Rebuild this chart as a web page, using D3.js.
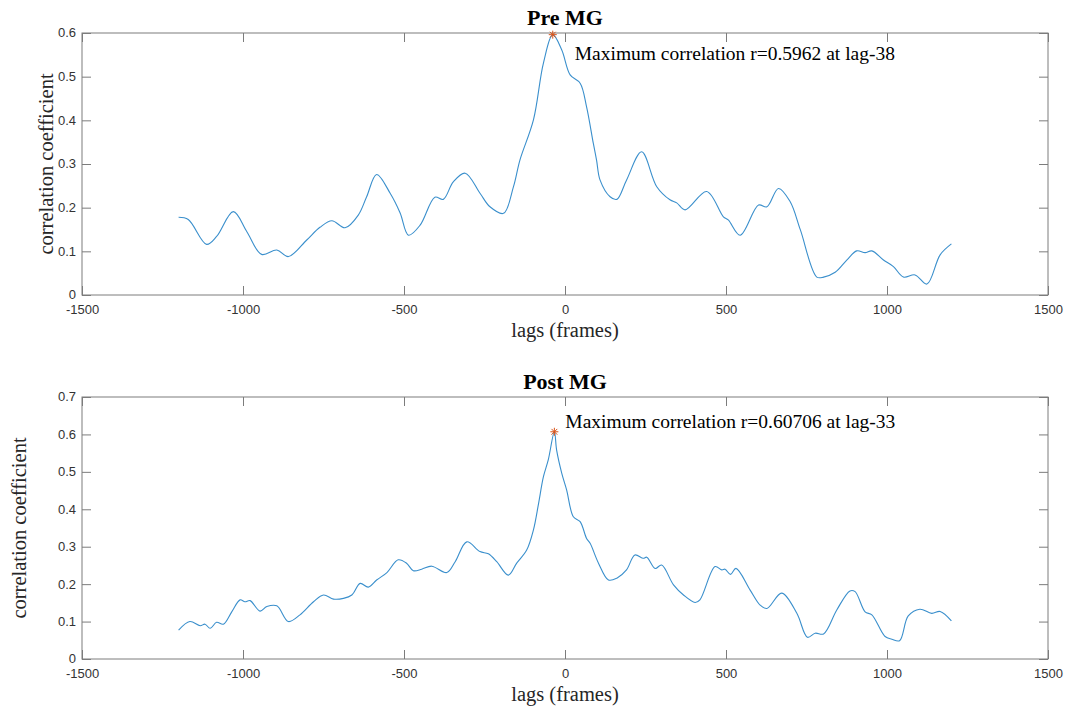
<!DOCTYPE html>
<html>
<head>
<meta charset="utf-8">
<script src="https://cdn.jsdelivr.net/npm/d3@7"></script>
<style>
  body { margin: 0; background: #fff; }
  .tick text { font-family: "Liberation Sans", Arial, sans-serif; font-size: 13px; fill: #333; }
  .axisText { font-family: "Liberation Serif", "Times New Roman", serif; font-size: 20.5px; fill: #262626; }
  .titleText { font-family: "Liberation Serif", "Times New Roman", serif; font-size: 22px; font-weight: bold; fill: #000; }
  .noteText { font-family: "Liberation Serif", "Times New Roman", serif; font-size: 19.5px; fill: #000; }
</style>
</head>
<body>
<div id="my_dataviz"></div>
<script>
// Values (lag in frames, correlation coefficient)
var preLags = [-1200, -1170, -1113, -1082, -1030, -988, -942, -895, -859, -802, -761, -724, -683, -642, -616, -585,
    -543, -512, -486, -450, -404, -378, -347, -310, -264, -233, -191, -160, -140, -98, -67, -38, -10, 16, 47, 67,
    88, 98, 109, 140, 161, 191, 238, 285, 326, 347, 373, 440, 492, 507, 544, 601, 627, 663, 699, 731, 782, 803,
    839, 875, 906, 932, 953, 989, 1020, 1051, 1087, 1124, 1165, 1200];
var preValues = [0.178, 0.173, 0.116, 0.134, 0.191, 0.145, 0.093, 0.103, 0.088, 0.126, 0.155, 0.170, 0.154, 0.183, 0.225, 0.276,
    0.233, 0.188, 0.137, 0.160, 0.224, 0.219, 0.259, 0.279, 0.233, 0.202, 0.187, 0.248, 0.309, 0.401, 0.531, 0.5962, 0.561, 0.504, 0.485, 0.431,
    0.347, 0.309, 0.263, 0.225, 0.219, 0.263, 0.328, 0.248, 0.218, 0.211, 0.195, 0.237, 0.179, 0.172, 0.137, 0.206, 0.202, 0.244, 0.214, 0.149, 0.041, 0.041,
    0.052, 0.080, 0.101, 0.097, 0.101, 0.080, 0.065, 0.041, 0.046, 0.025, 0.092, 0.117];

var postLags = [-1200, -1165, -1133, -1118, -1102, -1082, -1061, -1035, -1009, -994, -978, -947, -926, -895, -859, -823,
    -781, -750, -719, -688, -662, -636, -611, -585, -553, -518, -492, -471, -445, -414, -367, -341, -305, -264, -238,
    -212, -176, -150, -119, -98, -82, -67, -52, -33, -26, -10, 5, 26, 47, 67, 78, 104, 135, 161, 191, 217, 243, 254,
    280, 300, 337, 368, 404, 419, 466, 487, 497, 514, 531, 575, 606, 627, 673, 720, 753, 777, 803, 844, 885, 901,
    932, 953, 994, 1015, 1039, 1066, 1102, 1139, 1165, 1200];
var postValues = [0.077, 0.100, 0.089, 0.093, 0.082, 0.098, 0.093, 0.126, 0.158, 0.153, 0.156, 0.128, 0.140, 0.142, 0.100, 0.118,
    0.153, 0.171, 0.160, 0.162, 0.171, 0.202, 0.192, 0.211, 0.231, 0.265, 0.256, 0.236, 0.240, 0.248, 0.231, 0.260, 0.313, 0.287, 0.281,
    0.260, 0.224, 0.256, 0.291, 0.345, 0.416, 0.487, 0.532, 0.60706, 0.558, 0.496, 0.452, 0.380, 0.367, 0.322, 0.309, 0.256, 0.211, 0.216, 0.238, 0.278, 0.269, 0.272,
    0.242, 0.251, 0.198, 0.171, 0.151, 0.158, 0.247, 0.238, 0.240, 0.226, 0.242, 0.184, 0.144, 0.135, 0.176, 0.122, 0.058, 0.069, 0.067, 0.131, 0.182, 0.180,
    0.126, 0.118, 0.060, 0.053, 0.049, 0.115, 0.133, 0.122, 0.127, 0.102];

var xTicks = [-1500, -1000, -500, 0, 500, 1000, 1500];
var preYTicks = [0, 0.1, 0.2, 0.3, 0.4, 0.5, 0.6];
var postYTicks = [0, 0.1, 0.2, 0.3, 0.4, 0.5, 0.6, 0.7];

var prePeak = { lag: -38, r: 0.5962 };
var postPeak = { lag: -33, r: 0.60706 };

var svg = d3.select("#my_dataviz")
    .append("svg")
    .attr("width", 1066)
    .attr("height", 708);

var axisColor = "#7c7c7c";
var lineColor = "#3a8fcc";
var markColor = "#d95319";

// Setup x scale shared by both panels
var left = 82, right = 1048;
var x = d3.scaleLinear()
    .domain([-1500, 1500])
    .range([left, right]);

// plain hyphen minus like MATLAB, not the unicode minus d3 uses
var plain = function (d) { return String(d); };

function drawPanel(opts) {
    var y = d3.scaleLinear()
        .domain([0, opts.yMax])
        .range([opts.bottom, opts.top]);

    var g = svg.append("g");

    // box
    g.append("rect")
        .attr("x", left)
        .attr("y", opts.top)
        .attr("width", right - left)
        .attr("height", opts.bottom - opts.top)
        .style("fill", "none")
        .style("stroke", axisColor)
        .style("stroke-width", 1);

    // x axis (bottom, with labels) and mirrored ticks at top
    var xb = g.append("g")
        .attr("transform", "translate(0," + opts.bottom + ")")
        .call(d3.axisBottom(x).tickValues(xTicks).tickSize(-9).tickPadding(10).tickFormat(plain));
    var xt = g.append("g")
        .attr("transform", "translate(0," + opts.top + ")")
        .call(d3.axisTop(x).tickValues(xTicks).tickSize(-9).tickFormat(""));

    // y axis left with labels, mirrored right
    var yl = g.append("g")
        .attr("transform", "translate(" + left + ",0)")
        .call(d3.axisLeft(y).tickValues(opts.yTicks).tickSize(-9).tickPadding(6).tickFormat(plain));
    var yr = g.append("g")
        .attr("transform", "translate(" + right + ",0)")
        .call(d3.axisRight(y).tickValues(opts.yTicks).tickSize(-9).tickFormat(""));

    [xb, xt, yl, yr].forEach(function (a) {
        a.select(".domain").remove();
        a.selectAll(".tick line").style("stroke", axisColor);
    });
    xb.selectAll(".tick text").attr("dy", "0.71em");
    yl.selectAll(".tick text").attr("dy", "0.3em");

    // the series
    var data = opts.lags.map(function (d, i) { return { lag: d, r: opts.values[i] }; });
    var line = d3.line()
        .x(function (d) { return x(d.lag); })
        .y(function (d) { return y(d.r); })
        .curve(d3.curveCatmullRom.alpha(0.5));
    g.append("path")
        .datum(data)
        .attr("d", line)
        .style("fill", "none")
        .style("stroke", lineColor)
        .style("stroke-width", 1.1);

    // asterisk at the maximum
    var px = x(opts.peak.lag), py = y(opts.peak.r), s = 4;
    g.append("path")
        .attr("d", "M" + (px - s) + "," + py + "h" + (2 * s) +
            "M" + px + "," + (py - s) + "v" + (2 * s) +
            "M" + (px - s * 0.72) + "," + (py - s * 0.72) + "l" + (s * 1.44) + "," + (s * 1.44) +
            "M" + (px - s * 0.72) + "," + (py + s * 0.72) + "l" + (s * 1.44) + "," + (-s * 1.44))
        .style("fill", "none")
        .style("stroke", markColor)
        .style("stroke-width", 1);

    g.append("text")
        .attr("class", "noteText")
        .attr("x", px + opts.noteDx)
        .attr("y", py + opts.noteDy)
        .text("Maximum correlation r=" + opts.peak.r + " at lag" + opts.peak.lag);

    // title and labels
    g.append("text")
        .attr("class", "titleText")
        .attr("x", (left + right) / 2)
        .attr("y", opts.top - 8)
        .style("text-anchor", "middle")
        .text(opts.title);

    g.append("text")
        .attr("class", "axisText")
        .attr("x", (left + right) / 2)
        .attr("y", opts.bottom + 42)
        .style("text-anchor", "middle")
        .text("lags (frames)");

    g.append("text")
        .attr("class", "axisText")
        .attr("transform", "translate(" + opts.yLabelX + "," + ((opts.top + opts.bottom) / 2) + ") rotate(-90)")
        .attr("dy", "0.35em")
        .style("text-anchor", "middle")
        .text("correlation coefficient");
}

drawPanel({
    title: "Pre MG", top: 33, bottom: 295, yMax: 0.6, yTicks: preYTicks,
    lags: preLags, values: preValues, peak: prePeak,
    noteDx: 22, noteDy: 25, yLabelX: 46
});
drawPanel({
    title: "Post MG", top: 397, bottom: 659, yMax: 0.7, yTicks: postYTicks,
    lags: postLags, values: postValues, peak: postPeak,
    noteDx: 11, noteDy: -4, yLabelX: 19
});
</script>
</body>
</html>
